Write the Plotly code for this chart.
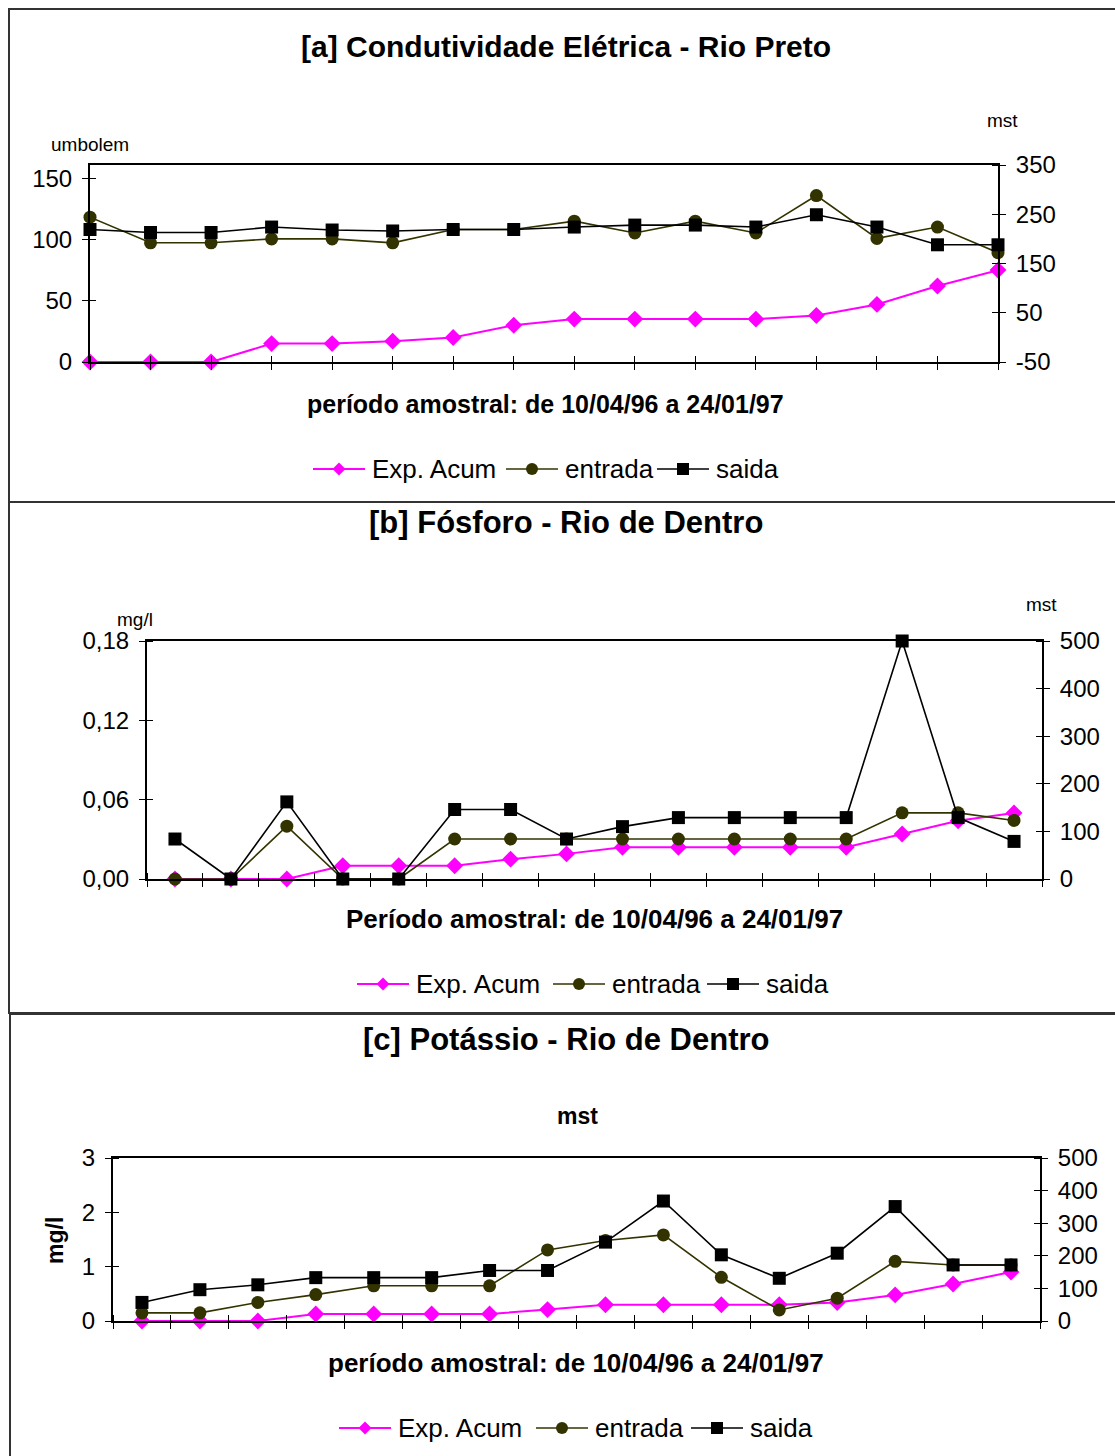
import plotly.graph_objects as go

W, H = 1115, 1456

# ---------------- data ----------------
amostras = [1, 2, 3, 4, 5, 6, 7, 8, 9, 10, 11, 12, 13, 14, 15, 16]

# [a] Condutividade Elétrica - Rio Preto
a_exp = [0, 0, 0, 15, 15, 17, 20, 30, 35, 35, 35, 35, 38, 47, 62, 75]
a_ent = [244, 192, 192, 200, 200, 192, 219, 219, 236, 212, 236, 212, 288, 201, 224, 172]
a_sai = [219, 213, 213, 224, 218, 216, 219, 219, 224, 228, 228, 224, 249, 224, 188, 188]
a_left_ticks = [0, 50, 100, 150]
a_left_labels = ["0", "50", "100", "150"]
a_right_ticks = [-50, 50, 150, 250, 350]
a_right_labels = ["-50", "50", "150", "250", "350"]

# [b] Fósforo - Rio de Dentro
b_exp = [0, 0, 0, 0.01, 0.01, 0.01, 0.015, 0.019, 0.024, 0.024, 0.024, 0.024, 0.024, 0.034, 0.044, 0.050]
b_ent = [0, 0, 111, 0, 0, 84, 84, 84, 84, 84, 84, 84, 84, 139, 139, 123]
b_sai = [84, 0, 162, 0, 0, 146, 146, 84, 110, 129, 129, 129, 129, 500, 129, 79]
b_left_ticks = [0, 0.06, 0.12, 0.18]
b_left_labels = ["0,00", "0,06", "0,12", "0,18"]
b_right_ticks = [0, 100, 200, 300, 400, 500]
b_right_labels = ["0", "100", "200", "300", "400", "500"]

# [c] Potássio - Rio de Dentro
c_exp = [0, 0, 0, 0.13, 0.13, 0.13, 0.13, 0.21, 0.30, 0.30, 0.30, 0.30, 0.34, 0.48, 0.68, 0.90]
c_ent = [25, 25, 57, 81, 108, 108, 108, 218, 247, 264, 134, 34, 70, 183, 172, 172]
c_sai = [57, 96, 111, 133, 133, 133, 155, 155, 242, 368, 203, 131, 208, 351, 172, 172]
c_left_ticks = [0, 1, 2, 3]
c_left_labels = ["0", "1", "2", "3"]
c_right_ticks = [0, 100, 200, 300, 400, 500]
c_right_labels = ["0", "100", "200", "300", "400", "500"]

series_names = ["Exp. Acum", "entrada", "saida"]
titles = ["[a] Condutividade Elétrica - Rio Preto",
          "[b] Fósforo - Rio de Dentro",
          "[c] Potássio - Rio de Dentro"]
xtitles = ["período amostral: de 10/04/96 a 24/01/97",
           "Período amostral: de 10/04/96 a 24/01/97",
           "período amostral: de 10/04/96 a 24/01/97"]

# ---------------- styling ----------------
FONT = "Liberation Sans, Arial, sans-serif"
PINK = "#FF00FF"
OLIVE = "#333300"
BLACK = "#000000"
COLORS = [PINK, OLIVE, BLACK]
SYMBOLS = ["diamond", "circle", "square"]


def px_x(p):
    return p / W


def px_y(p):
    return 1 - p / H


fig = go.Figure()

panels = [
    dict(exp=a_exp, ent=a_ent, sai=a_sai, xl=90, xr=998, yt=165, yb=362, between=False,
         lrange=[0, 160.8], lt=a_left_ticks, ll=a_left_labels,
         rrange=[-50, 350], rt=a_right_ticks, rl=a_right_labels,
         leg_y=469, leg_x=[313, 506, 657]),
    dict(exp=b_exp, ent=b_ent, sai=b_sai, xl=147, xr=1042, yt=641, yb=879, between=True,
         lrange=[0, 0.18], lt=b_left_ticks, ll=b_left_labels,
         rrange=[0, 500], rt=b_right_ticks, rl=b_right_labels,
         leg_y=984, leg_x=[357, 553, 707]),
    dict(exp=c_exp, ent=c_ent, sai=c_sai, xl=113, xr=1040, yt=1158, yb=1321, between=True,
         lrange=[0, 3], lt=c_left_ticks, ll=c_left_labels,
         rrange=[0, 500], rt=c_right_ticks, rl=c_right_labels,
         leg_y=1428, leg_x=[339, 536, 691]),
]

TICKFONT = dict(family=FONT, size=24, color="black")
layout_axes = {}
for i, p in enumerate(panels):
    n = i + 1
    xa = "x" if n == 1 else f"x{n}"
    yl_id = 2 * n - 1
    yr_id = 2 * n
    yl = "y" if yl_id == 1 else f"y{yl_id}"
    yr = f"y{yr_id}"

    for k, (vals, yax) in enumerate([(p["exp"], yl), (p["ent"], yr), (p["sai"], yr)]):
        fig.add_trace(go.Scatter(x=amostras, y=vals, name=series_names[k], xaxis=xa, yaxis=yax,
                                 mode="lines+markers",
                                 line=dict(color=COLORS[k], width=2 if k == 0 else 1.6),
                                 marker=dict(symbol=SYMBOLS[k], size=13, color=COLORS[k]),
                                 cliponaxis=False, showlegend=False))

    if p["between"]:
        xrange = [amostras[0] - 0.5, amostras[-1] + 0.5]
        tvals = [a - 0.5 for a in amostras] + [amostras[-1] + 0.5]
    else:
        xrange = [amostras[0], amostras[-1]]
        tvals = amostras[:]
    xkey = "xaxis" if n == 1 else f"xaxis{n}"
    layout_axes[xkey] = dict(
        domain=[px_x(p["xl"]), px_x(p["xr"])], range=xrange, anchor=yl, automargin=False,
        showline=True, linecolor="black", linewidth=2, mirror=True,
        showgrid=False, zeroline=False, showticklabels=False,
        tickmode="array", tickvals=tvals, ticks="outside", ticklen=6, tickcolor="black", tickwidth=1,
        minor=dict(tickmode="array", tickvals=[t + 1e-6 for t in tvals], ticks="inside",
                   ticklen=6, tickcolor="black", tickwidth=1, showgrid=False),
    )
    lspan = p["lrange"][1] - p["lrange"][0]
    ylkey = "yaxis" if yl_id == 1 else f"yaxis{yl_id}"
    layout_axes[ylkey] = dict(
        domain=[px_y(p["yb"]), px_y(p["yt"])], range=p["lrange"], anchor=xa, automargin=False,
        showline=True, linecolor="black", linewidth=2, showgrid=False, zeroline=False,
        tickmode="array", tickvals=p["lt"], ticktext=p["ll"],
        ticks="outside", ticklen=6, tickcolor="black",
        minor=dict(tickmode="array", tickvals=[t + 1e-7 * lspan for t in p["lt"]],
                   ticks="inside", ticklen=6, tickcolor="black", showgrid=False),
        tickfont=TICKFONT, ticklabelstandoff=5,
    )
    yrkey = f"yaxis{yr_id}"
    layout_axes[yrkey] = dict(
        overlaying=yl, side="right", anchor=xa, range=p["rrange"], automargin=False,
        showline=True, linecolor="black", linewidth=2, showgrid=False, zeroline=False,
        tickmode="array", tickvals=p["rt"], ticktext=p["rl"],
        ticks="outside", ticklen=6, tickcolor="black",
        minor=dict(tickmode="array", tickvals=[t + 1e-6 for t in p["rt"]],
                   ticks="inside", ticklen=6, tickcolor="black", showgrid=False),
        tickfont=TICKFONT, ticklabelstandoff=5,
    )

fig.update_layout(**layout_axes)

annotations = []
shapes = []


def ann(text, x, y, size, bold=False, angle=0, xanchor="center"):
    t = f"<b>{text}</b>" if bold else text
    annotations.append(dict(text=t, x=px_x(x), y=px_y(y), xref="paper", yref="paper",
                            xanchor=xanchor, yanchor="middle", showarrow=False, textangle=angle,
                            font=dict(family=FONT, size=size, color="black")))


# titles
ann(titles[0], 566, 46, 30, bold=True)
ann(titles[1], 566, 522, 31, bold=True)
ann(titles[2], 566, 1039, 31, bold=True)
# x titles
ann(xtitles[0], 545, 404, 25, bold=True)
ann(xtitles[1], 594, 919, 26, bold=True)
ann(xtitles[2], 576, 1363, 26, bold=True)
# axis unit labels
ann("umbolem", 90, 145, 19)
ann("mst", 1002, 120, 19)
ann("mg/l", 135, 619, 19)
ann("mst", 1041, 604, 19)
ann("mst", 577, 1116, 23, bold=True)
ann("mg/l", 55, 1240, 23, bold=True, angle=-90)

# legends (line + marker key, then label)
SEG = 52
MS = 6.5
for p in panels:
    yc = p["leg_y"]
    for k, x0 in enumerate(p["leg_x"]):
        col = COLORS[k]
        shapes.append(dict(type="line", xref="paper", yref="paper",
                           x0=px_x(x0), x1=px_x(x0 + SEG), y0=px_y(yc), y1=px_y(yc),
                           line=dict(color=col, width=2 if k == 0 else 1.6)))
        cx = x0 + SEG / 2
        if SYMBOLS[k] == "diamond":
            path = (f"M{px_x(cx - MS)},{px_y(yc)} L{px_x(cx)},{px_y(yc - MS)} "
                    f"L{px_x(cx + MS)},{px_y(yc)} L{px_x(cx)},{px_y(yc + MS)} Z")
            shapes.append(dict(type="path", xref="paper", yref="paper", path=path,
                               fillcolor=col, line=dict(color=col, width=0)))
        elif SYMBOLS[k] == "circle":
            shapes.append(dict(type="circle", xref="paper", yref="paper",
                               x0=px_x(cx - 6), x1=px_x(cx + 6), y0=px_y(yc + 6), y1=px_y(yc - 6),
                               fillcolor=col, line=dict(color=col, width=0)))
        else:
            shapes.append(dict(type="rect", xref="paper", yref="paper",
                               x0=px_x(cx - 6), x1=px_x(cx + 6), y0=px_y(yc + 6), y1=px_y(yc - 6),
                               fillcolor=col, line=dict(color=col, width=0)))
        ann(series_names[k], x0 + SEG + 5, yc, 26, xanchor="left")

# panel frames
shapes += [
    dict(type="rect", xref="paper", yref="paper", x0=px_x(9), x1=px_x(1120), y0=px_y(502), y1=px_y(9),
         line=dict(color="#333333", width=2)),
    dict(type="rect", xref="paper", yref="paper", x0=px_x(9), x1=px_x(1120), y0=px_y(1013), y1=px_y(502),
         line=dict(color="#333333", width=2)),
    dict(type="rect", xref="paper", yref="paper", x0=px_x(10), x1=px_x(1120), y0=px_y(1462), y1=px_y(1014),
         line=dict(color="#333333", width=2)),
]

fig.update_layout(
    width=W, height=H, autosize=False, margin=dict(l=0, r=0, t=0, b=0, pad=0),
    paper_bgcolor="white", plot_bgcolor="white",
    annotations=annotations, shapes=shapes, showlegend=False,
    font=dict(family=FONT, color="black"),
)

post = ("document.documentElement.style.margin='0';document.body.style.margin='0';"
        "document.documentElement.style.overflow='hidden';document.body.style.overflow='hidden';"
        "var d=document.getElementById('{plot_id}');d.style.position='absolute';"
        "d.style.left='0px';d.style.top='0px';")

fig.write_html("out.html", post_script=post, config={"displayModeBar": False, "responsive": False})
